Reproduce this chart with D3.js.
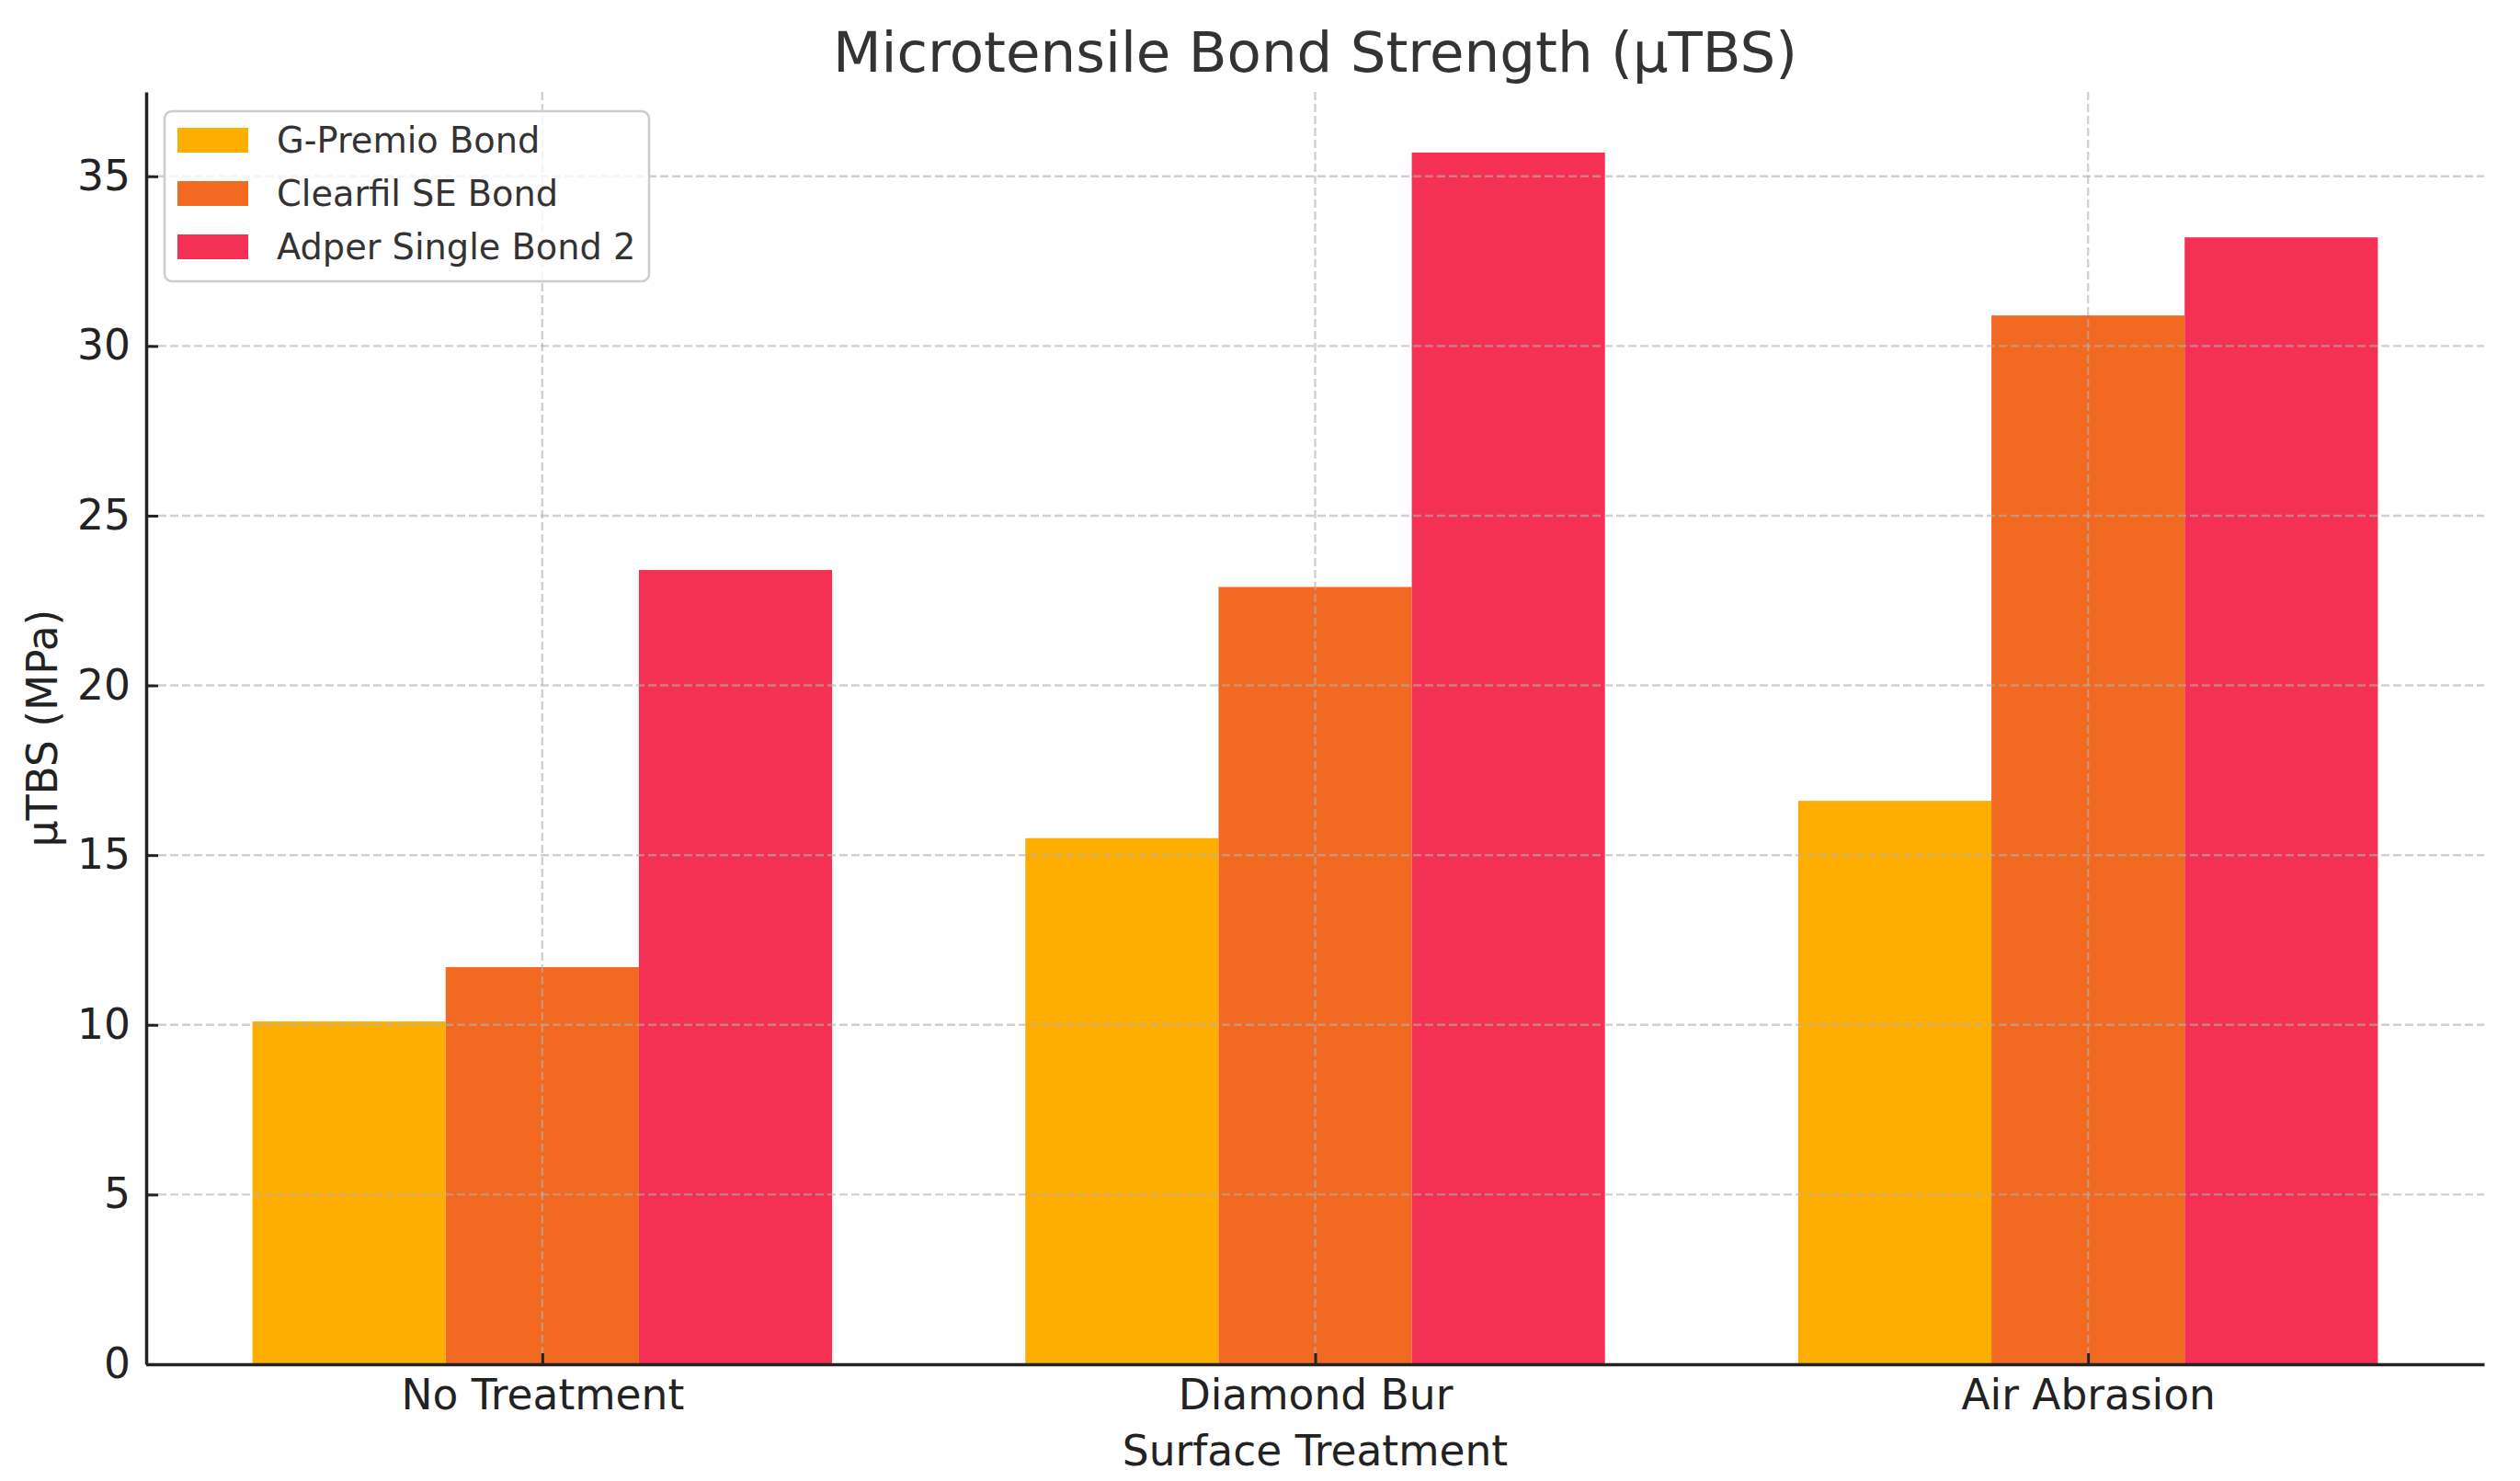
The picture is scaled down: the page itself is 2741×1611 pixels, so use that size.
<!DOCTYPE html>
<html>
<head>
<meta charset="utf-8">
<script src="https://cdn.jsdelivr.net/npm/d3@7"></script>
<style>
  body { margin: 0; background: #fff; }
  svg { display: block; font-family: "DejaVu Sans", sans-serif; }
</style>
</head>
<body>
<div id="chart-area"></div>
<script>
// data
const categories = ["No Treatment", "Diamond Bur", "Air Abrasion"];
const seriesNames = ["G-Premio Bond", "Clearfil SE Bond", "Adper Single Bond 2"];
const gPremio = [10.1, 15.5, 16.6];
const clearfil = [11.7, 22.9, 30.9];
const adper = [23.4, 35.7, 33.2];
const yTicks = [0, 5, 10, 15, 20, 25, 30, 35];
const colors = ["#FEAE00", "#F26922", "#F43155"];

let W = 2741, H = 1611;
let margin = {top: 100, right: 39, bottom: 127, left: 159};
let barWidth = 0.25;

let svg = d3.select("#chart-area").append("svg")
	.attr("width", W)
	.attr("height", H);

// scales
let x = d3.scaleLinear()
	.domain([-0.5125, categories.length - 1 + 0.5125])
	.range([margin.left, W - margin.right]);

let y = d3.scaleLinear()
	.domain([0, 37.485])
	.range([H - margin.bottom, margin.top]);

let allSeries = [gPremio, clearfil, adper];

// bars
allSeries.forEach((vals, s) => {
	let offset = (s - 1) * barWidth;
	svg.append("g").selectAll("rect")
		.data(vals)
		.enter()
		.append("rect")
		.attr("x", (d, i) => x(i + offset - barWidth / 2))
		.attr("width", (d, i) => x(i + offset + barWidth / 2) - x(i + offset - barWidth / 2))
		.attr("y", d => y(d))
		.attr("height", d => y(0) - y(d))
		.attr("fill", colors[s]);
});

// grid (drawn on top of bars, like the original)
let grid = svg.append("g")
	.attr("stroke", "#b0b0b0")
	.attr("stroke-opacity", 0.6)
	.attr("stroke-width", 2.4)
	.attr("stroke-dasharray", "9,4");

grid.selectAll(".hgrid")
	.data(yTicks.filter(d => d > 0))
	.enter().append("line")
	.attr("x1", x.range()[0]).attr("x2", x.range()[1])
	.attr("y1", d => y(d)).attr("y2", d => y(d));

grid.selectAll(".vgrid")
	.data(categories)
	.enter().append("line")
	.attr("x1", (d, i) => x(i)).attr("x2", (d, i) => x(i))
	.attr("y1", y.range()[1]).attr("y2", y.range()[0]);

// axes
let xAxis = d3.axisBottom(x)
	.tickValues(d3.range(categories.length))
	.tickFormat(i => categories[i])
	.tickSizeInner(-12)
	.tickSizeOuter(0)
	.tickPadding(17);

let yAxis = d3.axisLeft(y)
	.tickValues(yTicks)
	.tickFormat(d3.format("d"))
	.tickSizeInner(-13)
	.tickSizeOuter(0)
	.tickPadding(17);

let gx = svg.append("g")
	.attr("transform", "translate(0," + y(0) + ")")
	.call(xAxis);

let gy = svg.append("g")
	.attr("transform", "translate(" + x.range()[0] + ",0)")
	.call(yAxis);

[gx, gy].forEach(g => {
	g.attr("font-family", null).attr("font-size", null);
	g.select(".domain").attr("stroke", "#222").attr("stroke-width", 3.5);
	g.selectAll(".tick line").attr("stroke", "#222").attr("stroke-width", 3);
	g.selectAll(".tick text")
		.attr("fill", "#222")
		.style("font-size", "45.5px")
		.style("font-family", "DejaVu Sans");
});

// title and axis labels
svg.append("text")
	.attr("x", x(1))
	.attr("y", 78)
	.attr("text-anchor", "middle")
	.attr("fill", "#333")
	.style("font-size", "61px")
	.text("Microtensile Bond Strength (µTBS)");

svg.append("text")
	.attr("x", x(1))
	.attr("y", 1594)
	.attr("text-anchor", "middle")
	.attr("fill", "#222")
	.style("font-size", "45.5px")
	.text("Surface Treatment");

svg.append("text")
	.attr("transform", "translate(62," + (y.range()[0] + y.range()[1]) / 2 + ") rotate(-90)")
	.attr("text-anchor", "middle")
	.attr("fill", "#222")
	.style("font-size", "45.5px")
	.text("µTBS (MPa)");

// legend
let legend = svg.append("g");
legend.append("rect")
	.attr("x", 179).attr("y", 121)
	.attr("width", 527).attr("height", 185)
	.attr("rx", 8)
	.attr("fill", "#fff").attr("fill-opacity", 0.8)
	.attr("stroke", "#cccccc").attr("stroke-width", 2.5);

let items = legend.selectAll(".item")
	.data(seriesNames)
	.enter().append("g")
	.attr("transform", (d, i) => "translate(0," + (i * 58) + ")");

items.append("rect")
	.attr("x", 193).attr("y", 139)
	.attr("width", 77).attr("height", 27)
	.attr("fill", (d, i) => colors[i]);

items.append("text")
	.attr("x", 301).attr("y", 166)
	.attr("fill", "#333")
	.style("font-size", "38.3px")
	.text(d => d);
</script>
</body>
</html>
